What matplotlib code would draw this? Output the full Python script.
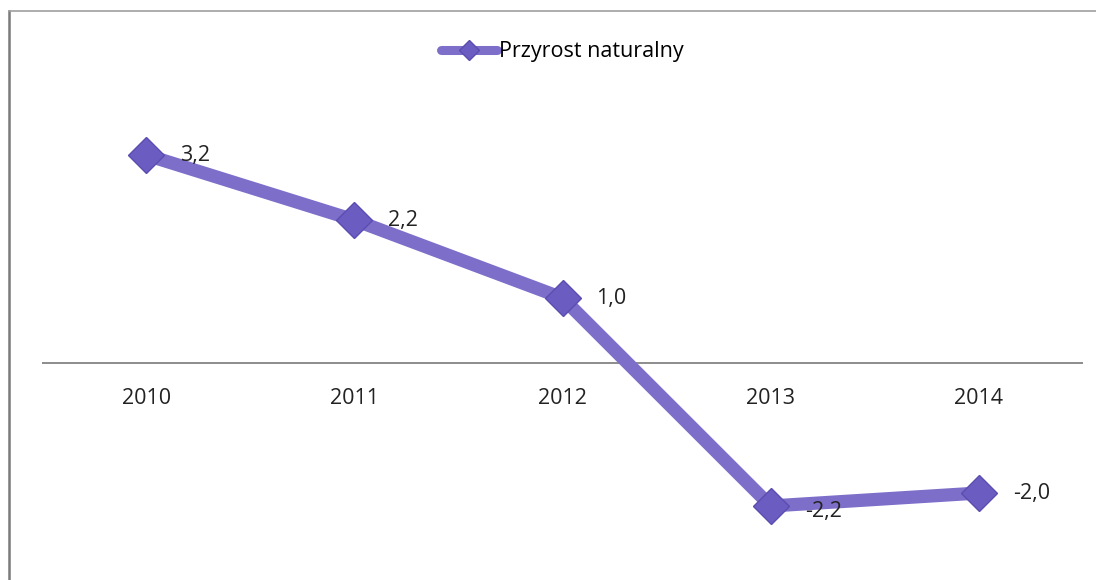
import matplotlib
matplotlib.use("Agg")
import matplotlib.pyplot as plt
from matplotlib.lines import Line2D

years = ["2010", "2011", "2012", "2013", "2014"]
values = [3.2, 2.2, 1.0, -2.2, -2.0]
value_labels = ["3,2", "2,2", "1,0", "-2,2", "-2,0"]
series_name = "Przyrost naturalny"

LINE_COLOR = "#7d6ec9"
MARKER_COLOR = "#6a5cc0"
FONT = ["Open Sans", "DejaVu Sans"]

fig = plt.figure(figsize=(10.96, 5.80), dpi=100)
fig.patch.set_facecolor("white")

W, H = 1096, 580
ax = fig.add_axes([42 / W, (H - 558) / H, 1041 / W, (558 - 103) / H])
ax.set_xlim(-0.5, len(years) - 0.5)
ax.set_ylim(-3, 4)
ax.axis("off")

# horizontal category axis at zero
ax.axhline(0, color="#8c8c8c", lw=1.4, zorder=1)

x = list(range(len(years)))
ax.plot(x, values, color=LINE_COLOR, lw=9.5, solid_joinstyle="round",
        solid_capstyle="round", zorder=2)
ax.plot(x, values, ls="none", marker="D", ms=18.5, mfc=MARKER_COLOR,
        mec="#5a4db0", mew=1, zorder=3)

for i, (v, lab) in enumerate(zip(values, value_labels)):
    dy = -6 if v < -2.1 else 0
    ax.annotate(lab, (i, v), xytext=(34, dy), textcoords="offset pixels",
                ha="left", va="center", fontsize=15.5, family=FONT, color="#222222")

for i, yr in enumerate(years):
    ax.annotate(yr, (i, 0), xytext=(0, -35), textcoords="offset pixels",
                ha="center", va="center", fontsize=15.5, family=FONT, color="#222222")

handle = Line2D([], [], color=LINE_COLOR, lw=6.5, marker="D", ms=10.5,
                mfc=MARKER_COLOR, mec="#5a4db0", solid_capstyle="round")
fig.legend([handle], [series_name], loc="center", bbox_to_anchor=(562 / W, 1 - 52 / H),
           frameon=False, handlelength=2.6, handletextpad=0.1,
           prop={"family": FONT, "size": 15.5})

# chart frame (cropped at right and bottom in the scan)
fig.add_artist(Line2D([9 / W, 9 / W], [0, 1 - 11 / H], color="#7a7a7a", lw=1.8))
fig.add_artist(Line2D([9 / W, 1], [1 - 11 / H, 1 - 11 / H], color="#a0a0a0", lw=1.2))

fig.savefig("out.png", dpi=100, facecolor="white")
